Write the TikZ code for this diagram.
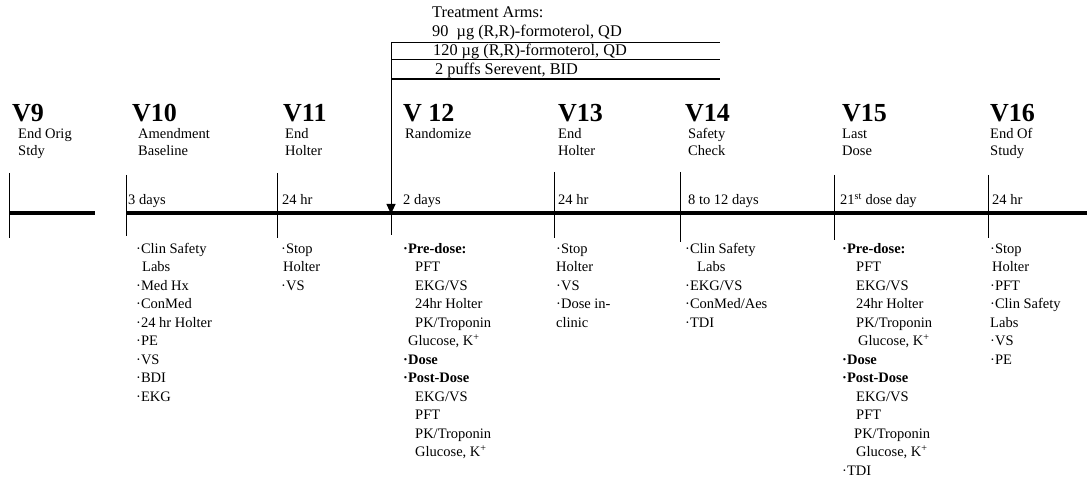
\documentclass[tikz,border=0pt]{standalone}
\usepackage{fontspec}
\setmainfont{Liberation Serif}
\usetikzlibrary{arrows.meta}
\begin{document}
\begin{tikzpicture}[x=1pt,y=-1pt,
  txt/.style={font=\fontsize{14.5}{18.5}\selectfont, inner sep=0pt, anchor=base west, align=left},
  armtxt/.style={font=\fontsize{16.3}{18.5}\selectfont, inner sep=0pt, anchor=base west},
  lst/.style={font=\fontsize{14.5}{18.5}\selectfont, inner sep=0pt, anchor=north west, align=left},
  lbl/.style={font=\fontsize{14.5}{17}\selectfont, inner sep=0pt, anchor=north west, align=left},
  hd/.style={font=\fontsize{26}{26}\selectfont\bfseries, inner sep=0pt, anchor=base west},
  tickline/.style={line width=0.9pt},
  axis/.style={line width=3.5pt},
  armline/.style={line width=0.9pt},
  armthick/.style={line width=1.6pt}]
\useasboundingbox[fill=white] (0,0) rectangle (1087,494);

% treatment arms
\node[armtxt] (tahead) at (432,18) {Treatment Arms:};
\node[armtxt] (arm1) at (432,37) {90\ \ µg (R,R)-formoterol, QD};
\node[armtxt] (arm2) at (433,56) {120 µg (R,R)-formoterol, QD};
\node[armtxt] (arm3) at (435,74.5) {2 puffs Serevent, BID};
\coordinate (a1l) at (391,42); \coordinate (a1r) at (720,42);
\coordinate (a2l) at (391,59.5); \coordinate (a2r) at (720,59.5);
\coordinate (a3l) at (391,79); \coordinate (a3r) at (720,79);
\draw[armline] (a1l) -- (a1r);
\draw[armline] (a2l) -- (a2r);
\draw[armthick] (a3l) -- (a3r);

% timeline
\coordinate (s9l) at (9,213); \coordinate (s9r) at (95,213);
\coordinate (tl) at (126,213); \coordinate (tr) at (1087,213);
\draw[axis] (s9l) -- (s9r);
\draw[axis] (tl) -- (tr);
\coordinate (rand) at (391,214);
\draw[armline,-{Triangle[width=9pt,length=10pt]}] (a1l) -- (rand);
\coordinate (randb) at (391,235);
\draw[tickline] (rand) -- (randb);

% ticks
\foreach \n/\x/\a/\b in {9/9/173/238, 10/126/175/236, 11/277/173/238, 13/554/172/238, 14/680/172/242, 15/834/175/240, 16/988/175/238}{
  \coordinate (t\n a) at (\x,\a); \coordinate (t\n b) at (\x,\b);
  \draw[tickline] (t\n a) -- (t\n b);
}

% headings
\node[hd] (h9)  at (12,122)  {V9};
\node[hd] (h10) at (132,122) {V10};
\node[hd] (h11) at (283,122) {V11};
\node[hd] (h12) at (403,122) {V 12};
\node[hd] (h13) at (558,122) {V13};
\node[hd] (h14) at (685,122) {V14};
\node[hd] (h15) at (842,122) {V15};
\node[hd] (h16) at (990,122) {V16};

% labels (first baseline 138)
\node[lbl] (l9)  at (18,126.1)  {\strut End Orig\\Stdy};
\node[lbl] (l10) at (138,126.1) {\strut Amendment\\Baseline};
\node[lbl] (l11) at (285,126.1) {\strut End\\Holter};
\node[lbl] (l12) at (405,126.1) {\strut Randomize};
\node[lbl] (l13) at (558,126.1) {\strut End\\Holter};
\node[lbl] (l14) at (688,126.1) {\strut Safety\\Check};
\node[lbl] (l15) at (842,126.1) {\strut Last\\Dose};
\node[lbl] (l16) at (990,126.1) {\strut End Of\\Study};

% durations
\node[txt] (d10) at (128,205) {3 days};
\node[txt] (d11) at (282,205) {24 hr};
\node[txt] (d12) at (403,205) {2 days};
\node[txt] (d13) at (558,205) {24 hr};
\node[txt] (d14) at (688,205) {8 to 12 days};
\node[txt] (d15) at (840,205) {21\textsuperscript{st} dose day};
\node[txt] (d16) at (992,205) {24 hr};

% lists (first baseline 253)
\node[lst] (p10) at (136,240.05) {\strut·Clin Safety\\\hspace*{6pt}Labs\\·Med Hx\\·ConMed\\·24 hr Holter\\·PE\\·VS\\·BDI\\·EKG};
\node[lst] (p11) at (281,240.05) {\strut·Stop\\\hspace*{2pt}Holter\\·VS};
\node[lst] (p12) at (403,240.05) {\strut\textbf{·Pre-dose:}\\\hspace*{12pt}PFT\\\hspace*{12pt}EKG/VS\\\hspace*{12pt}24hr Holter\\\hspace*{12pt}PK/Troponin\\\hspace*{5pt}Glucose, K\textsuperscript{+}\\\textbf{·Dose}\\\textbf{·Post-Dose}\\\hspace*{12pt}EKG/VS\\\hspace*{12pt}PFT\\\hspace*{12pt}PK/Troponin\\\hspace*{12pt}Glucose, K\textsuperscript{+}};
\node[lst] (p13) at (556,240.05) {\strut·Stop\\Holter\\·VS\\·Dose in-\\clinic};
\node[lst] (p14) at (685,240.05) {\strut·Clin Safety\\\hspace*{12pt}Labs\\·EKG/VS\\·ConMed/Aes\\·TDI};
\node[lst] (p15) at (842,240.05) {\strut\textbf{·Pre-dose:}\\\hspace*{14pt}PFT\\\hspace*{14pt}EKG/VS\\\hspace*{14pt}24hr Holter\\\hspace*{14pt}PK/Troponin\\\hspace*{16pt}Glucose, K\textsuperscript{+}\\\textbf{·Dose}\\\textbf{·Post-Dose}\\\hspace*{14pt}EKG/VS\\\hspace*{14pt}PFT\\\hspace*{12pt}PK/Troponin\\\hspace*{14pt}Glucose, K\textsuperscript{+}\\·TDI};
\node[lst] (p16) at (990,240.05) {\strut·Stop\\\hspace*{2pt}Holter\\·PFT\\·Clin Safety\\Labs\\·VS\\·PE};
\end{tikzpicture}
\end{document}
